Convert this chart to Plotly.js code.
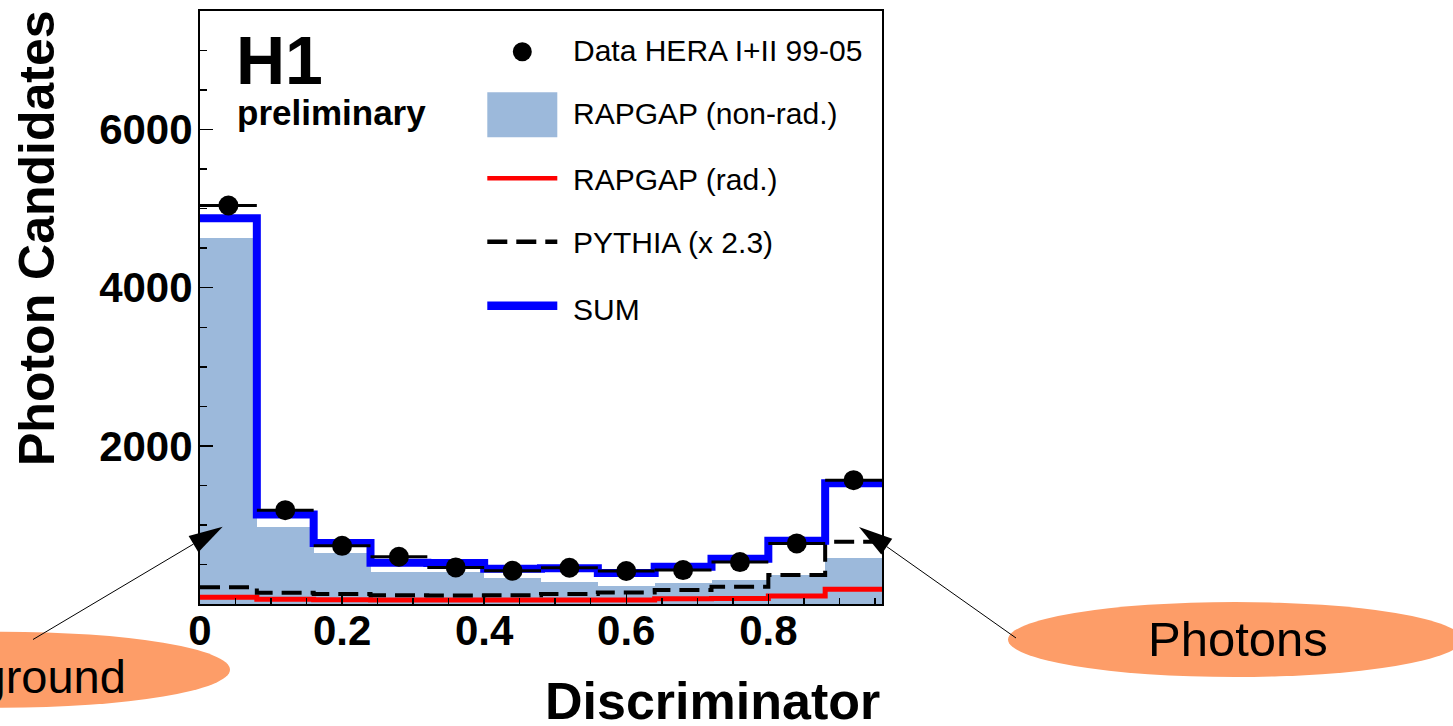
<!DOCTYPE html>
<html>
<head>
<meta charset="utf-8">
<script src="https://cdn.plot.ly/plotly-3.0.1.min.js"></script>
<style>html,body{margin:0;padding:0;background:#fff;}#chart{width:1453px;height:726px;}</style>
</head>
<body>
<div id="chart"></div>
<script>
// ---- data ----
const binCenters = [0.04, 0.12, 0.20, 0.28, 0.36, 0.44, 0.52, 0.60, 0.68, 0.76, 0.84, 0.92];
const binEdges   = [0, 0.08, 0.16, 0.24, 0.32, 0.40, 0.48, 0.56, 0.64, 0.72, 0.80, 0.88, 0.96];
const binHalfWidth = [0.04, 0.04, 0.04, 0.04, 0.04, 0.04, 0.04, 0.04, 0.04, 0.04, 0.04, 0.04];
const dataHERA   = [5040, 1187, 736, 597, 463, 421, 459, 417, 429, 530, 766, 1566];
const rapgapNonRad = [4630, 976, 640, 400, 400, 324, 282, 227, 269, 303, 366, 577];
const rapgapRad  = [85, 60, 55, 52, 52, 52, 50, 50, 65, 70, 100, 186];
const pythia     = [211, 143, 126, 110, 108, 112, 126, 147, 177, 219, 366, 787];
const sumMC      = [4880, 1133, 770, 522, 520, 445, 452, 391, 471, 572, 800, 1528];
const legendLabels = ['Data HERA I+II 99-05', 'RAPGAP (non-rad.)', 'RAPGAP (rad.)', 'PYTHIA (x 2.3)', 'SUM'];
const xTickVals = [0, 0.2, 0.4, 0.6, 0.8];
const yTickVals = [2000, 4000, 6000];
const yTickText = ['2000', '4000', '6000'];

// ---- layout helpers (pixel -> paper) ----
const W = 1453, H = 726;
const PL = 200, PR = 882, PT = 11, PB = 604;
const px = x => (x - PL) / (PR - PL);
const py = y => (PB - y) / (PB - PT);
const FONT = 'Liberation Sans, Arial, Helvetica, sans-serif';
const stepY = v => v.concat([v[v.length - 1]]);

const FILL = '#9cb9db';
const ORANGE = '#fd9d68';

const traces = [
  { type: 'bar', x: binCenters, y: rapgapNonRad, width: 0.08,
    marker: { color: FILL, line: { width: 0 } }, hoverinfo: 'skip', showlegend: false },
  { type: 'scatter', mode: 'lines', x: binEdges, y: stepY(rapgapRad),
    line: { color: '#ff0000', width: 5, shape: 'hv' }, showlegend: false },
  { type: 'scatter', mode: 'lines', x: binEdges, y: stepY(pythia),
    line: { color: '#000000', width: 4, shape: 'hv', dash: '20px,9px' }, showlegend: false },
  { type: 'scatter', mode: 'lines', x: binEdges, y: stepY(sumMC),
    line: { color: '#0000ff', width: 8, shape: 'hv' }, showlegend: false },
  { type: 'scatter', mode: 'markers', x: binCenters, y: dataHERA,
    marker: { color: '#000', size: 20 },
    error_x: { type: 'data', array: binHalfWidth, color: '#000', thickness: 3, width: 0 },
    showlegend: false, cliponaxis: false }
];

const shapes = [];
const annotations = [];

// legend (drawn by hand)
const legRowY = [50.5, 114, 179, 242, 309];
shapes.push({ type: 'circle', xref: 'paper', yref: 'paper', x0: px(512.8), x1: px(531.8), y0: py(61.2), y1: py(42.2),
  fillcolor: '#000', line: { width: 0 } });
shapes.push({ type: 'rect', xref: 'paper', yref: 'paper', x0: px(487.3), x1: px(557.3), y0: py(137.3), y1: py(92.3),
  fillcolor: FILL, line: { width: 0 } });
shapes.push({ type: 'line', xref: 'paper', yref: 'paper', x0: px(487.3), x1: px(557.3), y0: py(178.3), y1: py(178.3),
  line: { color: '#ff0000', width: 4.5 } });
shapes.push({ type: 'line', xref: 'paper', yref: 'paper', x0: px(487.3), x1: px(557.3), y0: py(241.7), y1: py(241.7),
  line: { color: '#000', width: 4.5, dash: '20px,9px' } });
shapes.push({ type: 'line', xref: 'paper', yref: 'paper', x0: px(487.3), x1: px(557.3), y0: py(305.7), y1: py(305.7),
  line: { color: '#0000ff', width: 8.5 } });
legendLabels.forEach((t, i) => annotations.push({
  xref: 'paper', yref: 'paper', x: px(571), y: py(legRowY[i]), xanchor: 'left', yanchor: 'middle',
  text: t, showarrow: false, font: { family: FONT, size: 30, color: '#000' }
}));

// H1 preliminary
annotations.push({ xref: 'paper', yref: 'paper', x: px(234), y: py(60), xanchor: 'left', yanchor: 'middle',
  text: 'H1', showarrow: false, font: { family: FONT, size: 68, color: '#000', weight: 'bold' } });
annotations.push({ xref: 'paper', yref: 'paper', x: px(234.5), y: py(112), xanchor: 'left', yanchor: 'middle',
  text: 'preliminary', showarrow: false, font: { family: FONT, size: 35, color: '#000', weight: 'bold' } });

// axis titles
annotations.push({ xref: 'paper', yref: 'paper', x: px(882), y: py(701), xanchor: 'right', yanchor: 'middle',
  text: 'Discriminator', showarrow: false, font: { family: FONT, size: 52, color: '#000', weight: 'bold' } });
annotations.push({ xref: 'paper', yref: 'paper', x: px(37), y: py(8), xanchor: 'center', yanchor: 'top',
  text: 'Photon Candidates', textangle: -90, showarrow: false, font: { family: FONT, size: 50, color: '#000', weight: 'bold' } });

// ellipses
shapes.push({ type: 'circle', xref: 'paper', yref: 'paper', x0: px(-226), x1: px(230), y0: py(707.7), y1: py(631.7),
  fillcolor: ORANGE, line: { width: 0 }, layer: 'below' });
shapes.push({ type: 'circle', xref: 'paper', yref: 'paper', x0: px(1008), x1: px(1462), y0: py(677), y1: py(602),
  fillcolor: ORANGE, line: { width: 0 }, layer: 'below' });
annotations.push({ xref: 'paper', yref: 'paper', x: px(128), y: py(676), xanchor: 'right', yanchor: 'middle',
  text: 'Background', showarrow: false, font: { family: FONT, size: 47, color: '#000' } });
annotations.push({ xref: 'paper', yref: 'paper', x: px(1237.5), y: py(638.5), xanchor: 'center', yanchor: 'middle',
  text: 'Photons', showarrow: false, font: { family: FONT, size: 49, color: '#000' } });

// arrows (line + filled triangular head)
function arrow(tail, tip, len, half) {
  const dx = tip[0] - tail[0], dy = tip[1] - tail[1];
  const L = Math.hypot(dx, dy), ux = dx / L, uy = dy / L;
  const bx = tip[0] - ux * len, by = tip[1] - uy * len;
  const c1 = [bx - uy * half, by + ux * half], c2 = [bx + uy * half, by - ux * half];
  shapes.push({ type: 'line', xref: 'paper', yref: 'paper', x0: px(tail[0]), y0: py(tail[1]), x1: px(bx), y1: py(by),
    line: { color: '#000', width: 1 }, layer: 'above' });
  shapes.push({ type: 'path', xref: 'paper', yref: 'paper', layer: 'above',
    path: `M${px(tip[0])},${py(tip[1])} L${px(c1[0])},${py(c1[1])} L${px(c2[0])},${py(c2[1])} Z`,
    fillcolor: '#000', line: { width: 0 } });
}
arrow([33, 639.5], [222.7, 526.7], 34, 9.5);
arrow([1016, 638], [859, 527], 34, 9.5);

const axisCommon = {
  showline: true, mirror: true, linecolor: '#000', linewidth: 2,
  showgrid: false, zeroline: false, ticks: 'inside', tickcolor: '#000', tickwidth: 1.5,
  tickfont: { family: FONT, size: 42, color: '#000', weight: 'bold' }
};

const layout = {
  width: W, height: H,
  margin: { l: PL, r: W - PR, t: PT, b: H - PB, pad: 0 },
  paper_bgcolor: 'rgba(0,0,0,0)', plot_bgcolor: '#fff',
  showlegend: false, bargap: 0, barmode: 'overlay',
  xaxis: Object.assign({}, axisCommon, {
    range: [0, 0.96], tickmode: 'array', tickvals: xTickVals, ticktext: xTickVals.map(String),
    ticklen: 10, ticklabelstandoff: -11,
    minor: { tickmode: 'linear', tick0: 0, dtick: 0.05, ticks: 'inside', ticklen: 6, tickwidth: 1.5, tickcolor: '#000', showgrid: false }
  }),
  yaxis: Object.assign({}, axisCommon, {
    range: [0, 7500], tickmode: 'array', tickvals: yTickVals, ticktext: yTickText,
    ticklen: 13, ticklabelstandoff: -3,
    minor: { tickmode: 'linear', tick0: 0, dtick: 500, ticks: 'inside', ticklen: 7, tickwidth: 1.5, tickcolor: '#000', showgrid: false }
  }),
  shapes: shapes,
  annotations: annotations
};

Plotly.newPlot('chart', traces, layout, { displayModeBar: false, staticPlot: true });
</script>
</body>
</html>
